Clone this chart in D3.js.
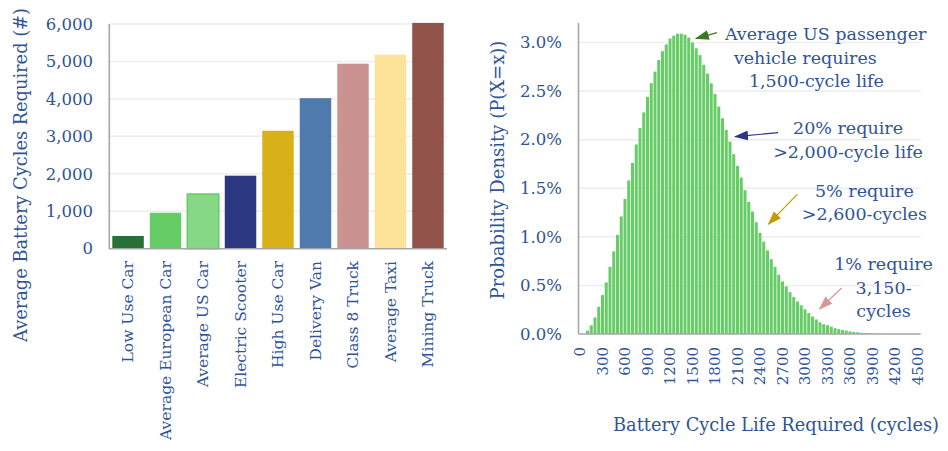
<!DOCTYPE html>
<html>

<head>
    <meta charset="utf-8" />
    <title>battery cycles</title>
</head>

<script src="https://d3js.org/d3.v7.min.js"></script>

<style>
    body {
        margin: 0;
        background: #ffffff;
    }

    svg {
        display: block;
        font-family: "DejaVu Serif", Georgia, serif;
    }

    text {
        fill: #2f5496;
    }

    .grid line {
        stroke: #ededed;
        stroke-width: 1.5px;
    }

    .axisLine {
        stroke: #a6a6a6;
        stroke-width: 1.6px;
    }
</style>

<body>
    <svg width="948" height="451"></svg>
</body>

</html>

<script>
    // left chart: cycles needed per vehicle type
    var vehicles = ['Low Use Car', 'Average European Car', 'Average US Car', 'Electric Scooter',
        'High Use Car', 'Delivery Van', 'Class 8 Truck', 'Average Taxi', 'Mining Truck'];
    var cyclesRequired = [340, 960, 1460, 1950, 3150, 4020, 4940, 5180, 6030];
    var vehicleColors = ['#287034', '#66cc66', '#86d786', '#2b3780', '#d7b117',
        '#4f7aad', '#cb9292', '#fde399', '#92534a'];
    var cycleTicks = [0, 1000, 2000, 3000, 4000, 5000, 6000];

    // right chart: distribution of cycle life required (50-cycle bins, % density)
    var binStarts = d3.range(0, 4550, 50);
    var density = [
        0, 0, 0.034, 0.09, 0.17, 0.28, 0.40, 0.53, 0.69, 0.85,
        1.02, 1.21, 1.39, 1.58, 1.76, 1.95, 2.12, 2.28, 2.44, 2.58,
        2.70, 2.82, 2.91, 2.98, 3.04, 3.07, 3.09, 3.09, 3.08, 3.05,
        3.00, 2.94, 2.87, 2.77, 2.68, 2.58, 2.47, 2.34, 2.22, 2.10,
        1.98, 1.85, 1.73, 1.61, 1.48, 1.36, 1.26, 1.15, 1.04, 0.95,
        0.86, 0.77, 0.69, 0.61, 0.54, 0.49, 0.43, 0.38, 0.335, 0.295,
        0.255, 0.215, 0.18, 0.15, 0.12, 0.10, 0.09, 0.075, 0.06, 0.05,
        0.04, 0.035, 0.027, 0.02, 0.017, 0.013, 0.01, 0.007, 0.005, 0.003,
        0.002, 0.001, 0.001, 0, 0, 0, 0, 0, 0, 0, 0
    ];
    var binLabels = [0, 300, 600, 900, 1200, 1500, 1800, 2100, 2400, 2700, 3000, 3300, 3600, 3900, 4200, 4500];
    var densityTicks = [0, 0.5, 1.0, 1.5, 2.0, 2.5, 3.0];

    // annotations: arrow tip in data coords (cycles, %), rest is pixel offset from tip
    var notes = [
        { lines: ['Average US passenger', 'vehicle requires', '1,500-cycle life'], tip: [1545, 3.04],
          tail: [21, -6], color: '#3b7a22', anchor: 'start', dx: [29, 38, 53], dy: [1, 25, 48] },
        { lines: ['20% require', '>2,000-cycle life'], tip: [2067, 2.03],
          tail: [43, -4], color: '#2b3780', anchor: 'middle', dx: [113, 113], dy: [-3, 21] },
        { lines: ['5% require', '>2,600-cycles'], tip: [2512, 1.13],
          tail: [29, -30], color: '#c49a00', anchor: 'middle', dx: [96, 96], dy: [-27, -4] },
        { lines: ['1% require', '3,150-', 'cycles'], tip: [3194, 0.257],
          tail: [22, -21], color: '#d99694', anchor: 'middle', dx: [64, 64, 64], dy: [-39, -15, 8] }
    ];

    var svg = d3.select('svg');

    drawLeft();
    drawRight();

    function drawLeft() {
        var x = d3.scaleBand().domain(vehicles).range([109.3, 446.7])
            .paddingInner(0.16).paddingOuter(0.08);
        var y = d3.scaleLinear().domain([0, 6000]).range([248.7, 24]);

        var g = svg.append('g');

        g.append('g').attr('class', 'grid')
            .selectAll('line')
            .data(cycleTicks.slice(1))
            .enter()
            .append('line')
            .attr('x1', 109.3).attr('x2', 446.7)
            .attr('y1', function(d) { return y(d); })
            .attr('y2', function(d) { return y(d); });

        g.selectAll('rect')
            .data(vehicles)
            .enter()
            .append('rect')
            .attr('x', function(d) { return x(d); })
            .attr('width', x.bandwidth())
            .attr('y', function(d, i) { return y(cyclesRequired[i]); })
            .attr('height', function(d, i) { return y(0) - y(cyclesRequired[i]); })
            .style('fill', function(d, i) { return vehicleColors[i]; })
            .style('stroke', function(d, i) { return i == 2 ? '#66cc66' : 'none'; })
            .style('stroke-width', '1.5px');

        g.append('line').attr('class', 'axisLine')
            .attr('x1', 109.3).attr('x2', 109.3).attr('y1', 24).attr('y2', 249);
        g.append('line').attr('class', 'axisLine')
            .attr('x1', 109.3).attr('x2', 447).attr('y1', 248.7).attr('y2', 248.7);

        g.selectAll('text.ytick')
            .data(cycleTicks)
            .enter()
            .append('text')
            .attr('class', 'ytick')
            .attr('x', 93)
            .attr('y', function(d) { return y(d); })
            .attr('dy', '0.35em')
            .style('text-anchor', 'end')
            .style('font-size', '16.5px')
            .text(function(d) { return d3.format(',')(d); });

        g.selectAll('text.xtick')
            .data(vehicles)
            .enter()
            .append('text')
            .attr('class', 'xtick')
            .attr('transform', function(d) {
                return 'translate(' + (x(d) + x.bandwidth() / 2) + ', 261) rotate(-90)';
            })
            .attr('dy', '0.35em')
            .style('text-anchor', 'end')
            .style('font-size', '15.5px')
            .text(function(d) { return d; });

        g.append('text')
            .attr('transform', 'translate(21, 175) rotate(-90)')
            .attr('dy', '0.35em')
            .style('text-anchor', 'middle')
            .style('font-size', '17.8px')
            .text('Average Battery Cycles Required (#)');
    }

    function drawRight() {
        var x = d3.scaleBand().domain(binStarts).range([578.5, 919]).paddingInner(0.2);
        var y = d3.scaleLinear().domain([0, 3.2]).range([334, 23]);
        // linear version of the bin axis, used to place the arrows
        var xc = d3.scaleLinear().domain([0, 4500])
            .range([x(0) + x.bandwidth() / 2, x(4500) + x.bandwidth() / 2]);

        var g = svg.append('g');

        g.append('g').attr('class', 'grid')
            .selectAll('line')
            .data(densityTicks.slice(1))
            .enter()
            .append('line')
            .attr('x1', 578.5).attr('x2', 920.7)
            .attr('y1', function(d) { return y(d); })
            .attr('y2', function(d) { return y(d); });

        g.selectAll('rect')
            .data(binStarts)
            .enter()
            .append('rect')
            .attr('x', function(d) { return x(d); })
            .attr('width', x.bandwidth())
            .attr('y', function(d, i) { return y(density[i]); })
            .attr('height', function(d, i) { return y(0) - y(density[i]); })
            .style('fill', '#66cc66');

        g.append('line').attr('class', 'axisLine')
            .attr('x1', 578.5).attr('x2', 578.5).attr('y1', 23).attr('y2', 334);
        g.append('line').attr('class', 'axisLine')
            .attr('x1', 578.5).attr('x2', 920.7).attr('y1', 334).attr('y2', 334);

        g.selectAll('text.ytick')
            .data(densityTicks)
            .enter()
            .append('text')
            .attr('class', 'ytick')
            .attr('x', 562)
            .attr('y', function(d) { return y(d); })
            .attr('dy', '0.35em')
            .style('text-anchor', 'end')
            .style('font-size', '16.5px')
            .text(function(d) { return d.toFixed(1) + '%'; });

        g.selectAll('text.xtick')
            .data(binLabels)
            .enter()
            .append('text')
            .attr('class', 'xtick')
            .attr('transform', function(d) {
                return 'translate(' + (x(d) + x.bandwidth() / 2) + ', 347) rotate(-90)';
            })
            .attr('dy', '0.35em')
            .style('text-anchor', 'end')
            .style('font-size', '15px')
            .text(function(d) { return d; });

        g.append('text')
            .attr('transform', 'translate(498, 170) rotate(-90)')
            .attr('dy', '0.35em')
            .style('text-anchor', 'middle')
            .style('font-size', '18px')
            .text('Probability Density (P(X=x))');

        g.append('text')
            .attr('x', 776)
            .attr('y', 431)
            .style('text-anchor', 'middle')
            .style('font-size', '17.8px')
            .text('Battery Cycle Life Required (cycles)');

        // arrow heads
        var defs = svg.append('defs');
        notes.forEach(function(n, i) {
            defs.append('marker')
                .attr('id', 'head' + i)
                .attr('markerUnits', 'userSpaceOnUse')
                .attr('markerWidth', 14).attr('markerHeight', 10)
                .attr('refX', 13).attr('refY', 5)
                .attr('orient', 'auto')
                .append('path')
                .attr('d', 'M0,0 L14,5 L0,10 Z')
                .style('fill', n.color);
        });

        var ann = g.selectAll('g.note')
            .data(notes)
            .enter()
            .append('g')
            .attr('class', 'note')
            .attr('transform', function(d) {
                return 'translate(' + xc(d.tip[0]) + ',' + y(d.tip[1]) + ')';
            });

        ann.append('line')
            .attr('x1', function(d) { return d.tail[0]; })
            .attr('y1', function(d) { return d.tail[1]; })
            .attr('x2', 0).attr('y2', 0)
            .style('stroke', function(d) { return d.color; })
            .style('stroke-width', '1.2px')
            .attr('marker-end', function(d, i) { return 'url(#head' + i + ')'; });

        ann.each(function(d) {
            var sel = d3.select(this);
            d.lines.forEach(function(line, k) {
                sel.append('text')
                    .attr('x', d.dx[k])
                    .attr('y', d.dy[k])
                    .style('text-anchor', d.anchor)
                    .style('font-size', '17.5px')
                    .text(line);
            });
        });
    }
</script>
